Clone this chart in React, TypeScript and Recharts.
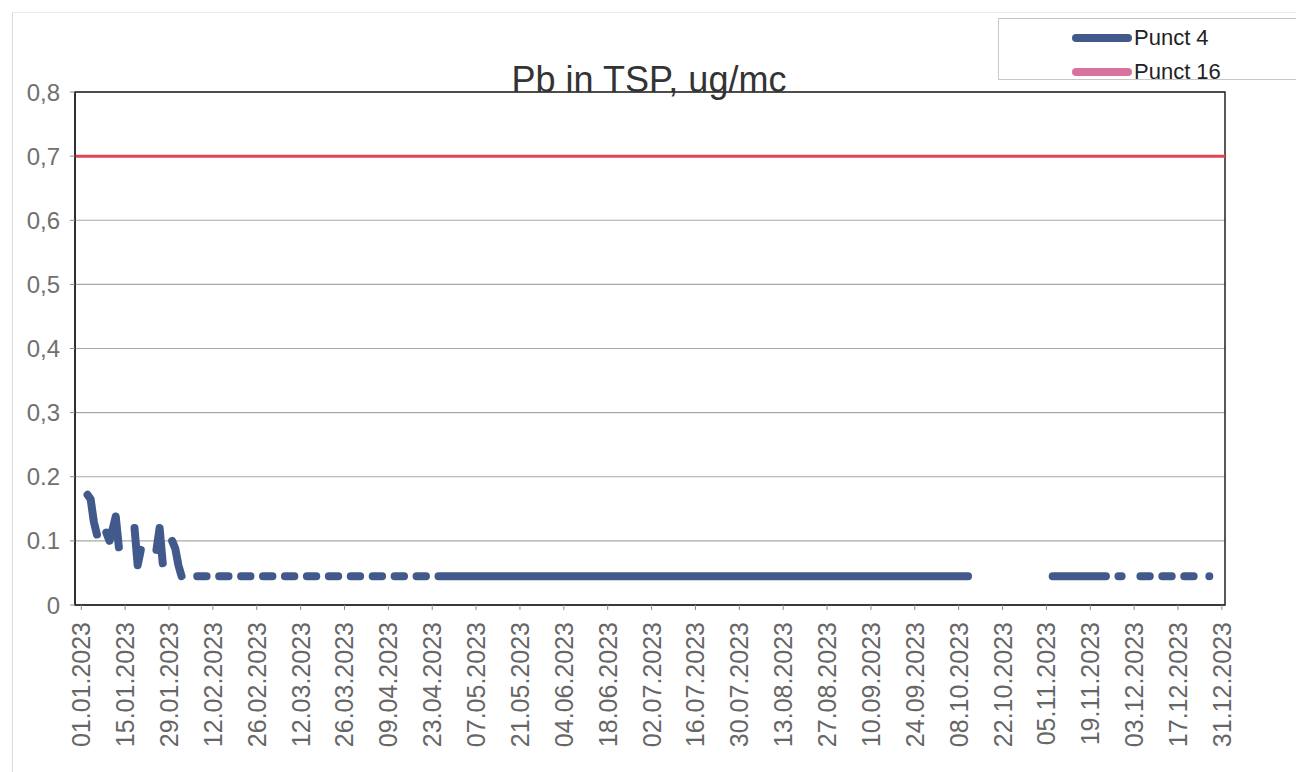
import React from 'react';
import {
  LineChart,
  Line,
  XAxis,
  YAxis,
  CartesianGrid,
  ReferenceLine,
  ReferenceArea,
  Legend,
} from 'recharts';

// x axis labels, one every 14 days
const xTickLabels = [
  '01.01.2023', '15.01.2023', '29.01.2023', '12.02.2023', '26.02.2023', '12.03.2023',
  '26.03.2023', '09.04.2023', '23.04.2023', '07.05.2023', '21.05.2023', '04.06.2023',
  '18.06.2023', '02.07.2023', '16.07.2023', '30.07.2023', '13.08.2023', '27.08.2023',
  '10.09.2023', '24.09.2023', '08.10.2023', '22.10.2023', '05.11.2023', '19.11.2023',
  '03.12.2023', '17.12.2023', '31.12.2023',
];

const yTicks = [0, 0.1, 0.2, 0.3, 0.4, 0.5, 0.6, 0.7, 0.8];
const yTickLabels = ['0', '0.1', '0.2', '0,3', '0,4', '0,5', '0,6', '0,7', '0,8'];

const seriesNames = ['Punct 4', 'Punct 16'];

// Punct 4 - individual readings in January (dd.mm, ug/mc)
const earlyReadings: [string, number][] = [
  ['03.01', 0.172], ['04.01', 0.165], ['05.01', 0.13], ['06.01', 0.11],
  ['09.01', 0.113], ['10.01', 0.1], ['11.01', 0.118], ['12.01', 0.138], ['13.01', 0.09],
  ['18.01', 0.12], ['19.01', 0.062], ['20.01', 0.086],
  ['25.01', 0.086], ['26.01', 0.12], ['27.01', 0.065],
  ['30.01', 0.1], ['31.01', 0.088], ['01.02', 0.062], ['02.02', 0.045],
];

// Punct 4 - periods reported at the flat level (from, to)
const flatLevel = 0.045;
const flatRuns: [string, string][] = [
  ['07.02', '10.02'], ['14.02', '17.02'], ['21.02', '24.02'], ['28.02', '03.03'],
  ['07.03', '10.03'], ['14.03', '17.03'], ['21.03', '24.03'], ['28.03', '31.03'],
  ['04.04', '07.04'], ['11.04', '14.04'], ['18.04', '21.04'], ['25.04', '11.10'],
  ['07.11', '24.11'], ['28.11', '29.11'], ['05.12', '08.12'], ['12.12', '15.12'],
  ['19.12', '22.12'], ['27.12', '27.12'],
];

// Punct 16 - no readings shown
const punct16Readings: [string, number][] = [];

const limitValue = 0.7;

const dayIndex = (s: string) => {
  const [d, m] = s.split('.').map(Number);
  return Math.round((Date.UTC(2023, m - 1, d) - Date.UTC(2023, 0, 1)) / 86400000);
};

const xTickDays = xTickLabels.map(dayIndex);

const data: { day: number; p4: number | null; p16: number | null }[] = [];
for (let i = 0; i < 365; i++) data.push({ day: i, p4: null, p16: null });
earlyReadings.forEach(([d, v]) => {
  data[dayIndex(d)].p4 = v;
});
flatRuns.forEach(([from, to]) => {
  for (let i = dayIndex(from); i <= dayIndex(to); i++) data[i].p4 = flatLevel;
});
punct16Readings.forEach(([d, v]) => {
  data[dayIndex(d)].p16 = v;
});

const FONT = '"Liberation Sans", Arial, sans-serif';

const DateTick = (props: any) => {
  const { x, y, payload } = props;
  const label = xTickLabels[xTickDays.indexOf(payload.value)];
  return (
    <text
      x={x}
      y={y}
      transform={`rotate(-90, ${x}, ${y})`}
      textAnchor="end"
      dominantBaseline="central"
      fontSize={25}
      fill="#666"
      fontFamily={FONT}
    >
      {label}
    </text>
  );
};

const LegendBox = (props: any) => {
  const items = [...(props.payload || [])].sort(
    (a: any, b: any) => seriesNames.indexOf(a.value) - seriesNames.indexOf(b.value)
  );
  return (
    <div
      style={{
        border: '1px solid #c8c8c8',
        borderRight: 'none',
        width: 300,
        height: 62,
        boxSizing: 'border-box',
        position: 'relative',
        fontFamily: FONT,
      }}
    >
      {items.map((it: any, i: number) => (
        <div
          key={it.value}
          style={{
            position: 'absolute',
            left: 73,
            top: 4 + i * 34,
            height: 30,
            display: 'flex',
            alignItems: 'center',
          }}
        >
          <span
            style={{
              display: 'inline-block',
              width: 60,
              height: 8,
              borderRadius: 4,
              background: it.color,
            }}
          />
          <span style={{ fontSize: 22, color: '#222', marginLeft: 2 }}>{it.value}</span>
        </div>
      ))}
    </div>
  );
};

export default function App() {
  return (
    <div
      style={{
        position: 'absolute',
        left: 0,
        top: 0,
        width: 1296,
        height: 772,
        background: '#fff',
        overflow: 'hidden',
      }}
    >
      <div
        style={{
          position: 'absolute',
          left: 12,
          top: 12,
          width: 1284,
          height: 760,
          borderLeft: '1px solid #dcdcdc',
          borderTop: '1px solid #ececec',
        }}
      />
      <LineChart
        width={1296}
        height={772}
        data={data}
        margin={{ top: 92, right: 71, left: 0, bottom: 17 }}
      >
        <CartesianGrid horizontal vertical={false} stroke="#a8a8a8" strokeWidth={1.2} />
        <XAxis
          dataKey="day"
          type="number"
          domain={[-2, 365]}
          ticks={xTickDays}
          interval={0}
          height={150}
          tick={<DateTick />}
          tickSize={5}
          tickMargin={12}
          axisLine={{ stroke: '#333', strokeWidth: 1.5 }}
          tickLine={{ stroke: '#888' }}
        />
        <YAxis
          type="number"
          domain={[0, 0.8]}
          ticks={yTicks}
          width={75}
          tickFormatter={(v: number) => yTickLabels[yTicks.indexOf(v)]}
          tick={{ fontSize: 24, fill: '#707070', fontFamily: FONT }}
          tickSize={5}
          tickMargin={10}
          axisLine={{ stroke: '#222', strokeWidth: 1.5 }}
          tickLine={{ stroke: '#888' }}
        />
        <ReferenceArea
          x1={-2}
          x2={365}
          y1={0}
          y2={0.8}
          fill="none"
          fillOpacity={0}
          stroke="#222"
          strokeWidth={1.5}
        />
        <ReferenceLine y={limitValue} stroke="#e6454f" strokeWidth={3} />
        <Legend
          layout="vertical"
          align="center"
          verticalAlign="middle"
          wrapperStyle={{ position: 'absolute', left: 998, top: 18, width: 300, height: 62, margin: 0 }}
          content={<LegendBox />}
        />
        <Line
          name={seriesNames[0]}
          dataKey="p4"
          type="linear"
          stroke="#425a8b"
          strokeWidth={8}
          strokeLinecap="round"
          strokeLinejoin="round"
          dot={false}
          activeDot={false}
          connectNulls={false}
          isAnimationActive={false}
        />
        <Line
          name={seriesNames[1]}
          dataKey="p16"
          type="linear"
          stroke="#d8739f"
          strokeWidth={8}
          dot={false}
          activeDot={false}
          isAnimationActive={false}
        />
      </LineChart>
      <svg
        width={1296}
        height={772}
        style={{ position: 'absolute', left: 0, top: 0, pointerEvents: 'none' }}
      >
        <text x={649} y={92} textAnchor="middle" fontSize={36} fill="#333" fontFamily={FONT}>
          Pb in TSP, ug/mc
        </text>
      </svg>
    </div>
  );
}
